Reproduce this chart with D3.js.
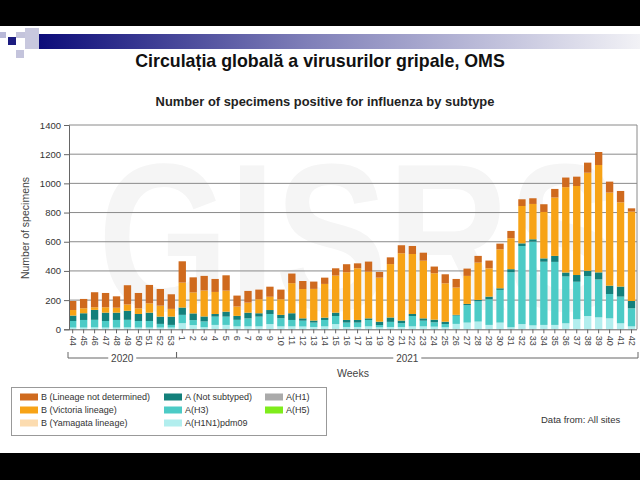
<!DOCTYPE html>
<html><head><meta charset="utf-8">
<script src="https://cdn.jsdelivr.net/npm/d3@7"></script>
<style>body{margin:0;background:#fff}svg{display:block;font-family:"Liberation Sans",Arial,sans-serif}</style>
</head><body><svg id="c" width="640" height="480"></svg>
<script>
// ---- data ----
const weeks = ["44","45","46","47","48","49","50","51","52","53",
  "1","2","3","4","5","6","7","8","9","10","11","12","13","14","15","16","17","18","19","20",
  "21","22","23","24","25","26","27","28","29","30","31","32","33","34","35","36","37","38","39","40","41","42"];
const aH1N1pdm09 = [12,12,13,12,12,13,12,12,12,12, 42,29,14,30,30,20,20,20,36,20,20,19,16,20,36,16,16,20,14,16, 16,20,20,18,14,37,46,53,30,46,14,36,27,30,30,41,69,91,82,75,41,20];
const aH3 = [45,52,52,45,52,52,45,45,25,18, 57,34,40,57,57,45,55,67,69,56,44,40,30,44,55,30,30,44,15,35, 26,71,39,30,22,57,119,139,176,224,377,535,574,433,432,321,257,273,260,167,183,124];
const aNotSubtyped = [37,46,68,57,50,62,48,57,50,57, 50,46,34,18,34,27,39,23,27,23,46,16,14,16,23,18,18,11,23,30, 18,14,16,18,16,5,9,9,18,11,21,18,16,23,41,27,46,37,48,57,69,50];
const bVictoria = [38,34,18,37,34,43,39,64,75,53, 171,144,178,151,144,64,69,96,91,107,206,201,217,231,254,327,354,320,302,366, 461,411,395,318,263,187,192,256,194,267,212,256,242,318,400,585,610,672,736,638,577,612];
const bLineageND = [62,64,103,98,78,132,105,126,114,100, 146,103,100,89,105,75,80,66,69,66,66,55,50,43,50,55,34,69,39,46, 55,55,55,46,62,59,50,46,53,39,50,46,39,53,59,66,64,69,89,75,78,23];
const years = [{label:"2020", first:"44", last:"53"},{label:"2021", first:"1", last:"42"}];
const yTicks = [0,200,400,600,800,1000,1200,1400];
const seriesKeys = ["aH1N1pdm09","aH3","aNotSubtyped","bVictoria","bLineageND"];
const legendItems = [
  ["B (Lineage not determined)","#cf6a1e"],["B (Victoria lineage)","#f7a316"],["B (Yamagata lineage)","#fcdcb0"],
  ["A (Not subtyped)","#13807b"],["A(H3)","#4ccbc6"],["A(H1N1)pdm09","#b2eeee"],
  ["A(H1)","#aaaaaa"],["A(H5)","#7fec1c"]];
const colorOf = {aH1N1pdm09:"#b2eeee",aH3:"#4ccbc6",aNotSubtyped:"#13807b",bVictoria:"#f7a316",bLineageND:"#cf6a1e"};

// ---- build ----
const svg = d3.select("#c");
svg.append("rect").attr("width",640).attr("height",480).attr("fill","#fff");
// slide decoration
svg.append("rect").attr("x",0).attr("y",0).attr("width",640).attr("height",26).attr("fill","#000");
svg.append("rect").attr("x",0).attr("y",453).attr("width",640).attr("height",27).attr("fill","#000");
const defs = svg.append("defs");
const lg = defs.append("linearGradient").attr("id","band").attr("x1","0").attr("x2","1");
lg.append("stop").attr("offset","0").attr("stop-color","#0a0a78");
lg.append("stop").attr("offset","0.45").attr("stop-color","#7f7fb8");
lg.append("stop").attr("offset","1").attr("stop-color","#f2f2f6");
svg.append("rect").attr("x",34).attr("y",34).attr("width",606).attr("height",15).attr("fill","url(#band)");
svg.append("rect").attr("x",0).attr("y",32).attr("width",6).attr("height",6).attr("fill","#b9b9d8");
svg.append("rect").attr("x",8).attr("y",37).attr("width",8).attr("height",8).attr("fill","#1c1c80");
svg.append("rect").attr("x",16).attr("y",32).attr("width",9).attr("height",6).attr("fill","#c4c4dc");
svg.append("rect").attr("x",25).attr("y",28).attr("width",14).attr("height",21).attr("fill","#c8c8de");
svg.append("rect").attr("x",16).attr("y",50).attr("width",8).attr("height",8).attr("fill","#c4c4dc");

svg.append("text").attr("x",320).attr("y",67).attr("text-anchor","middle")
  .attr("font-size",17.8).attr("font-weight","bold").attr("fill","#111")
  .text("Circulația globală a virusurilor gripale, OMS");
svg.append("text").attr("x",325).attr("y",106).attr("text-anchor","middle")
  .attr("font-size",12.9).attr("font-weight","bold").attr("fill","#222")
  .text("Number of specimens positive for influenza by subtype");

const x0 = 67.2, x1 = 637, yTop = 125, yBot = 329.3;
const x = d3.scaleBand().domain(weeks).range([x0,x1]).paddingInner(0.33).paddingOuter(0.165);
const y = d3.scaleLinear().domain([0,1400]).range([yBot,yTop]);

// watermark
svg.append("text").attr("transform","translate(98,310) scale(1,1.25)").attr("font-size",168).attr("font-weight","bold")
  .attr("fill","#f5f5f5").text("GISRS");

// grid
svg.append("g").selectAll("line").data(yTicks.filter(d=>d>0)).join("line")
  .attr("x1",69).attr("x2",x1).attr("y1",d=>y(d)).attr("y2",d=>y(d)).attr("stroke","#8a8a8a").attr("stroke-width",1);

// bars
const table = weeks.map((w,i)=>({week:w,aH1N1pdm09:aH1N1pdm09[i],aH3:aH3[i],aNotSubtyped:aNotSubtyped[i],bVictoria:bVictoria[i],bLineageND:bLineageND[i]}));
const stacked = d3.stack().keys(seriesKeys)(table);
svg.append("g").selectAll("g").data(stacked).join("g").attr("fill",s=>colorOf[s.key])
  .selectAll("rect").data(s=>s).join("rect")
  .attr("x",d=>x(d.data.week)).attr("width",x.bandwidth())
  .attr("y",d=>y(d[1])).attr("height",d=>y(d[0])-y(d[1]));

// y axis
const ya = d3.axisLeft(y).tickValues(yTicks).tickFormat(d3.format("d")).tickSize(5).tickPadding(3);
const gy = svg.append("g").attr("transform","translate(69,0)").call(ya);
gy.select(".domain").attr("stroke","#666");
gy.selectAll(".tick line").attr("stroke","#666");
gy.selectAll("text").attr("font-size",9.5).attr("fill","#333").attr("font-family","Liberation Sans, Arial, sans-serif");
// right border
svg.append("line").attr("x1",x1).attr("x2",x1).attr("y1",yTop).attr("y2",yBot).attr("stroke","#8a8a8a");

// x axis
const xa = d3.axisBottom(x).tickSize(4).tickPadding(2).tickSizeOuter(0);
const gx = svg.append("g").attr("transform",`translate(0,${yBot})`).call(xa);
gx.select(".domain").attr("stroke","#666").attr("d",`M69,0.5H${x1}`);
gx.selectAll(".tick line").attr("stroke","#666");
gx.selectAll("text").attr("font-size",9).attr("fill","#444").attr("font-family","Liberation Sans, Arial, sans-serif")
  .attr("transform","rotate(90)").attr("text-anchor","start").attr("dy","0.32em").attr("x",6.5).attr("y",0);

// year brackets
const yb = 358;
years.forEach((yr,i)=>{
  const a = i===0 ? 68 : x(yr.first)-2;
  const b = i===0 ? x(yr.last)+x.bandwidth()+1.5 : 638;
  const cx = (a+b)/2, gap = 14;
  const g = svg.append("g").attr("stroke","#666").attr("fill","none");
  g.append("path").attr("d",`M${a},${yb-6}V${yb}H${cx-gap}`);
  g.append("path").attr("d",`M${cx+gap},${yb}H${b}V${yb-6}`);
  svg.append("text").attr("x",cx).attr("y",yb+4).attr("text-anchor","middle").attr("font-size",10).attr("fill","#444").text(yr.label);
});
svg.append("text").attr("x",353).attr("y",377).attr("text-anchor","middle").attr("font-size",10.5).attr("fill","#444").text("Weeks");
svg.append("text").attr("transform","translate(29,228) rotate(-90)").attr("text-anchor","middle")
  .attr("font-size",10.5).attr("fill","#444").text("Number of specimens");

// legend
svg.append("rect").attr("x",11.5).attr("y",387.5).attr("width",315).attr("height",48).attr("fill","#fff").attr("stroke","#999");
const cols = [20,164,265], rows=[397,410,423];
legendItems.forEach((it,i)=>{
  const c = Math.floor(i/3), r = i%3;
  svg.append("rect").attr("x",cols[c]).attr("y",rows[r]-3.5).attr("width",18).attr("height",7).attr("fill",it[1]);
  svg.append("text").attr("x",cols[c]+21).attr("y",rows[r]+3.2).attr("font-size",9).attr("fill","#333").text(it[0]);
});
svg.append("text").attr("x",541).attr("y",423).attr("font-size",9.5).attr("fill","#333").text("Data from: All sites");
</script></body></html>
